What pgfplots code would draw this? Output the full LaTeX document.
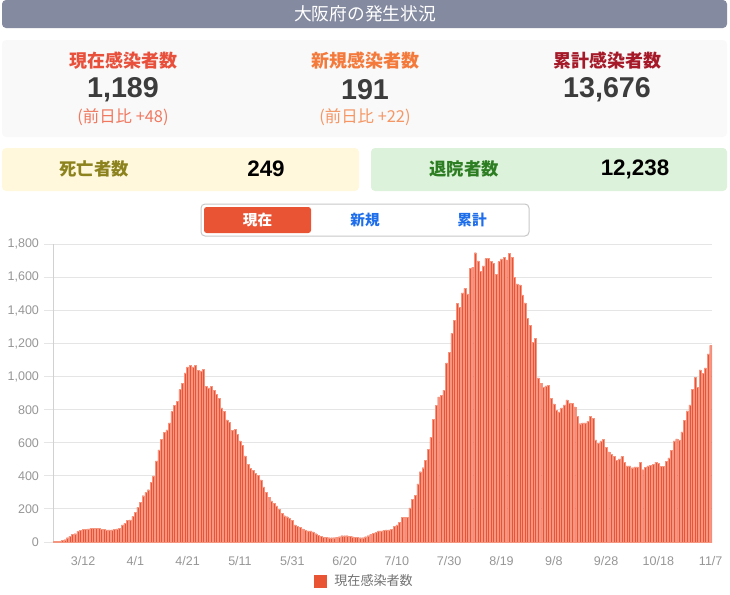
\documentclass[border=0pt]{standalone}
\usepackage{pgfplots}
\pgfplotsset{compat=1.18}
\usepackage{fontspec}
\setmainfont{Liberation Sans}
\newfontfamily\cjk{Noto Sans CJK JP}
\definecolor{hdr}{RGB}{132,138,160}
\definecolor{cardbg}{RGB}{249,249,249}
\definecolor{curc}{RGB}{232,80,60}
\definecolor{newc}{RGB}{244,122,60}
\definecolor{cumc}{RGB}{165,25,40}
\definecolor{numc}{RGB}{60,60,60}
\definecolor{subcur}{RGB}{240,120,95}
\definecolor{subnew}{RGB}{245,150,100}
\definecolor{deathbg}{RGB}{255,248,220}
\definecolor{deathc}{RGB}{140,130,30}
\definecolor{recbg}{RGB}{220,242,218}
\definecolor{recc}{RGB}{45,125,35}
\definecolor{btnred}{RGB}{233,84,52}
\definecolor{btnblue}{RGB}{30,110,235}
\definecolor{barfill}{RGB}{236,82,54}
\definecolor{baredge}{RGB}{245,150,128}
\definecolor{tickgray}{RGB}{150,150,150}
\definecolor{leggray}{RGB}{115,115,115}
\begin{document}
\begin{tikzpicture}[x=0.75pt,y=-0.75pt]
\useasboundingbox (0,0) rectangle (730,594);
% header
\fill[hdr, rounded corners=3pt] (2,0) rectangle (727,28);
\node[text=white, font=\cjk\fontsize{13.3}{15}\selectfont] at (365,14) {大阪府の発生状況};
% top card
\fill[cardbg, rounded corners=3pt] (2,40) rectangle (727,137);
\node[text=curc, font=\cjk\bfseries\fontsize{13.5}{15}\selectfont] at (123,61) {現在感染者数};
\node[text=newc, font=\cjk\bfseries\fontsize{13.5}{15}\selectfont] at (365,61) {新規感染者数};
\node[text=cumc, font=\cjk\bfseries\fontsize{13.5}{15}\selectfont] at (607,61) {累計感染者数};
\node[text=numc, font=\bfseries\fontsize{21.5}{23}\selectfont] at (123,90) {1,189};
\node[text=numc, font=\bfseries\fontsize{21.5}{23}\selectfont] at (365,90) {191};
\node[text=numc, font=\bfseries\fontsize{21.5}{23}\selectfont] at (607,90) {13,676};
\node[text=subcur, font=\cjk\fontsize{12.3}{14}\selectfont] at (123,117) {(前日比 +48)};
\node[text=subnew, font=\cjk\fontsize{12.3}{14}\selectfont] at (365,117) {(前日比 +22)};
% death / recovered
\fill[deathbg, rounded corners=3pt] (2,148) rectangle (359,191);
\fill[recbg, rounded corners=3pt] (371,148) rectangle (727,191);
\node[text=deathc, font=\cjk\bfseries\fontsize{13}{15}\selectfont] at (94,169) {死亡者数};
\node[text=black, font=\bfseries\fontsize{16.8}{18}\selectfont] at (266,169) {249};
\node[text=recc, font=\cjk\bfseries\fontsize{13}{15}\selectfont] at (464,169) {退院者数};
\node[text=black, font=\bfseries\fontsize{16.8}{18}\selectfont] at (635,169) {12,238};
% buttons
\draw[black!22, line width=0.75pt, rounded corners=3pt] (201,204) rectangle (529,236);
\fill[btnred, rounded corners=2pt] (204,207) rectangle (311,233);
\node[text=white, font=\cjk\bfseries\fontsize{11}{13}\selectfont] at (257.5,220) {現在};
\node[text=btnblue, font=\cjk\bfseries\fontsize{11}{13}\selectfont] at (365,220) {新規};
\node[text=btnblue, font=\cjk\bfseries\fontsize{11}{13}\selectfont] at (472,220) {累計};
\begin{axis}[
 at={(39.75pt,-406.5pt)}, anchor=south west,
 width=494.25pt, height=223.3pt, scale only axis,
 xmin=-0.5, xmax=251.5, ymin=0, ymax=1800,
 ytick={0,200,...,1800},
 xtick={11,31,...,251},
 xticklabels={3/12,4/1,4/21,5/11,5/31,6/20,7/10,7/30,8/19,9/8,9/28,10/18,11/7},
 axis x line*=bottom, axis y line*=left,
 axis line style={draw=black!18, line width=0.75pt, -},
 ymajorgrids, grid style={draw=black!10, line width=0.75pt},
 tick align=outside, major tick length=7pt,
 ytick style={draw=black!10, line width=0.75pt},
 xtick style={draw=none},
 ticklabel style={font=\fontsize{9.4}{10}\selectfont, text=tickgray},
 /pgf/number format/assume math mode=true,
 /pgf/number format/1000 sep={,},
 scaled y ticks=false,
 ybar, bar width=1.5pt,
 legend style={at={(0.473,-0.13)}, anchor=center, draw=none, fill=none,
   font=\cjk\fontsize{9.8}{11}\selectfont, text=leggray,
   /tikz/every odd column/.append style={column sep=4pt}},
 legend image code/.code={\fill[btnred] (0pt,-4.5pt) rectangle (9pt,4.5pt);},
]
\addplot[fill=barfill, draw=baredge, line width=0.3pt] coordinates {
(0,2)(1,4)(2,6)(3,12)(4,14)(5,26)(6,36)(7,48)(8,50)(9,64)
(10,72)(11,76)(12,76)(13,80)(14,82)(15,84)(16,84)(17,84)(18,78)(19,78)
(20,74)(21,74)(22,74)(23,78)(24,80)(25,84)(26,104)(27,114)(28,132)(29,134)
(30,155)(31,181)(32,211)(33,241)(34,280)(35,300)(36,316)(37,360)(38,400)(39,491)
(40,557)(41,622)(42,662)(43,678)(44,720)(45,789)(46,825)(47,849)(48,922)(49,960)
(50,1023)(51,1059)(52,1067)(53,1059)(54,1067)(55,1039)(56,1035)(57,1045)(58,942)(59,932)
(60,942)(61,918)(62,892)(63,870)(64,811)(65,791)(66,739)(67,725)(68,676)(69,680)
(70,650)(71,612)(72,586)(73,521)(74,471)(75,445)(76,435)(77,417)(78,405)(79,376)
(80,334)(81,302)(82,268)(83,248)(84,235)(85,219)(86,199)(87,175)(88,159)(89,153)
(90,145)(91,133)(92,103)(93,95)(94,87)(95,79)(96,70)(97,68)(98,68)(99,62)
(100,50)(101,42)(102,34)(103,30)(104,30)(105,26)(106,26)(107,26)(108,30)(109,32)
(110,38)(111,38)(112,38)(113,34)(114,32)(115,30)(116,30)(117,26)(118,26)(119,32)
(120,38)(121,46)(122,52)(123,58)(124,68)(125,68)(126,72)(127,74)(128,74)(129,76)
(130,95)(131,103)(132,121)(133,151)(134,151)(135,151)(136,207)(137,256)(138,284)(139,352)
(140,425)(141,449)(142,495)(143,562)(144,632)(145,743)(146,827)(147,878)(148,886)(149,918)
(150,1083)(151,1147)(152,1262)(153,1339)(154,1443)(155,1419)(156,1506)(157,1534)(158,1500)(159,1655)
(160,1661)(161,1749)(162,1699)(163,1637)(164,1669)(165,1713)(166,1715)(167,1695)(168,1685)(169,1620)
(170,1695)(171,1711)(172,1719)(173,1705)(174,1745)(175,1723)(176,1600)(177,1560)(178,1554)(179,1494)
(180,1445)(181,1353)(182,1310)(183,1206)(184,1232)(185,992)(186,960)(187,936)(188,944)(189,948)
(190,870)(191,835)(192,797)(193,787)(194,811)(195,829)(196,860)(197,841)(198,837)(199,817)
(200,761)(201,715)(202,721)(203,721)(204,731)(205,761)(206,749)(207,618)(208,596)(209,612)
(210,622)(211,574)(212,545)(213,531)(214,519)(215,495)(216,503)(217,517)(218,483)(219,461)
(220,461)(221,449)(222,455)(223,455)(224,483)(225,437)(226,451)(227,461)(228,465)(229,471)
(230,483)(231,477)(232,459)(233,459)(234,489)(235,509)(236,556)(237,612)(238,624)(239,616)
(240,666)(241,737)(242,793)(243,829)(244,922)(245,994)(246,936)(247,1041)(248,1019)(249,1053)
(250,1137)(251,1189)
};
\addlegendentry{現在感染者数}
\end{axis}
\end{tikzpicture}
\end{document}
